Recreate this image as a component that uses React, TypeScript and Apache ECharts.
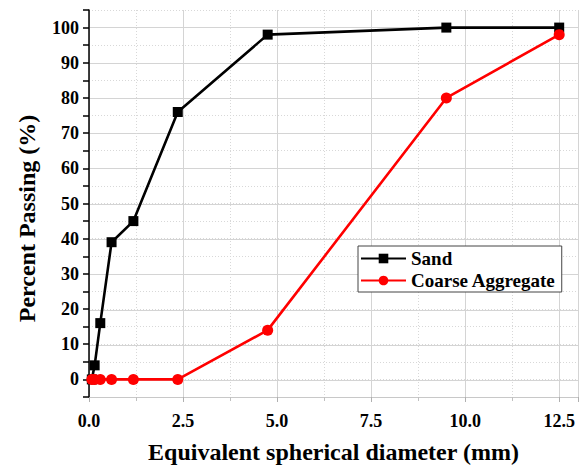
import React, { useEffect, useRef } from "react";
import * as echarts from "echarts";

const diameters = [0.075, 0.15, 0.3, 0.6, 1.18, 2.36, 4.75, 9.5, 12.5];
const sandPassing = [0, 4, 16, 39, 45, 76, 98, 100, 100];
const coarsePassing = [0, 0, 0, 0, 0, 0, 14, 80, 98];
const seriesNames = ["Sand", "Coarse Aggregate"];
const xTitle = "Equivalent spherical diameter (mm)";
const yTitle = "Percent Passing (%)";

const FONT = "'Liberation Serif', 'Times New Roman', serif";

const W = 584;
const H = 469;
const GRID_LEFT = 89;
const GRID_RIGHT = 6;
const GRID_TOP = 10;
const GRID_BOTTOM = 71;
const Y_MIN = -5;
const Y_MAX = 105;

export default function App() {
  const ref = useRef<HTMLDivElement>(null);
  useEffect(() => {
    if (!ref.current) return;
    const chart = echarts.init(ref.current, undefined, { renderer: "svg" });
    const plotH = H - GRID_TOP - GRID_BOTTOM;
    const pxPerUnit = plotH / (Y_MAX - Y_MIN);
    const g2Top = GRID_TOP + (Y_MAX - 100) * pxPerUnit;
    const g2Bottom = GRID_BOTTOM + (0 - Y_MIN) * pxPerUnit;
    const pairs = (ys: number[]) => diameters.map((d, i) => [d, ys[i]]);
    chart.setOption({
      animation: false,
      backgroundColor: "#ffffff",
      grid: [
        { left: GRID_LEFT, right: GRID_RIGHT, top: GRID_TOP, bottom: GRID_BOTTOM },
        { left: GRID_LEFT, right: GRID_RIGHT, top: g2Top, bottom: g2Bottom },
      ],
      legend: {
        orient: "vertical",
        left: 358,
        top: 246,
        width: 196,
        padding: [3, 6, 2, 2],
        itemGap: 3,
        itemWidth: 45,
        itemHeight: 12,
        backgroundColor: "#ffffff",
        borderColor: "#444444",
        borderWidth: 1,
        textStyle: { fontFamily: FONT, fontWeight: "bold", fontSize: 19, color: "#000" },
        data: seriesNames,
      },
      xAxis: [
        {
          type: "value",
          gridIndex: 0,
          min: 0,
          max: 13,
          interval: 2.5,
          name: xTitle,
          nameLocation: "middle",
          nameGap: 43,
          nameTextStyle: { fontFamily: FONT, fontWeight: "bold", fontSize: 24, color: "#000" },
          axisLine: { show: true, onZero: false, lineStyle: { color: "#c8c8c8", width: 1 } },
          axisTick: { show: true, length: 5, lineStyle: { color: "#b0b0b0" } },
          minorTick: { show: true, splitNumber: 2, length: 4, lineStyle: { color: "#c0c0c0" } },
          axisLabel: {
            fontFamily: FONT,
            fontWeight: "bold",
            fontSize: 18,
            color: "#000",
            margin: 15,
            formatter: (v: number) => (Math.abs(v / 2.5 - Math.round(v / 2.5)) < 1e-6 ? v.toFixed(1) : ""),
          },
          splitLine: { show: true, lineStyle: { color: "#d4d4d4", width: 1, type: "solid" } },
          minorSplitLine: { show: true, lineStyle: { color: "#d8d8d8", width: 1, type: [1, 2] } },
        },
        {
          type: "value",
          gridIndex: 1,
          min: 0,
          max: 13,
          show: false,
        },
      ],
      yAxis: [
        {
          type: "value",
          gridIndex: 0,
          min: Y_MIN,
          max: Y_MAX,
          interval: 5,
          name: yTitle,
          nameLocation: "middle",
          nameGap: 50,
          nameTextStyle: {
            fontFamily: FONT,
            fontWeight: "bold",
            fontSize: 24,
            color: "#000",
            padding: [0, 30, 0, 0],
          },
          axisLine: { show: true, onZero: false, lineStyle: { color: "#000", width: 1.5 } },
          axisTick: { show: true, length: 6, lineStyle: { color: "#000", width: 1.5 } },
          axisLabel: {
            fontFamily: FONT,
            fontWeight: "bold",
            fontSize: 18,
            color: "#000",
            margin: 10,
            formatter: (v: number) => (v % 10 === 0 ? String(v) : ""),
          },
          splitLine: { show: true, lineStyle: { color: "#d8d8d8", width: 1, type: [1, 2] } },
        },
        {
          type: "value",
          gridIndex: 1,
          min: 0,
          max: 100,
          interval: 10,
          axisLine: { show: false },
          axisTick: { show: false },
          axisLabel: { show: false },
          splitLine: { show: true, lineStyle: { color: "#d4d4d4", width: 1, type: "solid" } },
        },
      ],
      series: [
        {
          name: seriesNames[0],
          type: "line",
          xAxisIndex: 0,
          yAxisIndex: 0,
          data: pairs(sandPassing),
          symbol: "rect",
          symbolSize: 10,
          color: "#000000",
          lineStyle: { color: "#000000", width: 2.6 },
          itemStyle: { color: "#000000" },
          z: 3,
        },
        {
          name: seriesNames[1],
          type: "line",
          xAxisIndex: 0,
          yAxisIndex: 0,
          data: pairs(coarsePassing),
          symbol: "circle",
          symbolSize: 11,
          color: "#ff0000",
          lineStyle: { color: "#ff0000", width: 2.6 },
          itemStyle: { color: "#ff0000" },
          z: 4,
        },
      ],
    });
    return () => chart.dispose();
  }, []);
  return <div ref={ref} style={{ width: W, height: H, position: "absolute", left: 0, top: 0 }} />;
}
